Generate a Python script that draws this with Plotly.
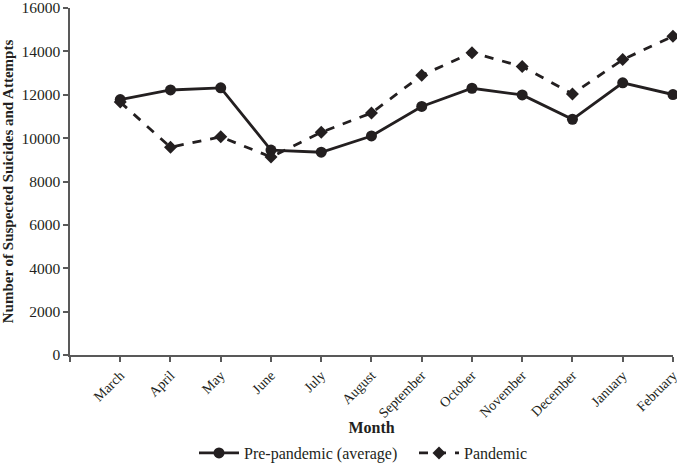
import plotly.graph_objects as go

months = ["March", "April", "May", "June", "July", "August", "September",
          "October", "November", "December", "January", "February"]
pre_pandemic = [11780, 12220, 12320, 9450, 9350, 10100, 11460, 12300, 11990, 10870, 12550, 12010]
pandemic = [11660, 9580, 10060, 9130, 10270, 11160, 12900, 13940, 13300, 12040, 13620, 14700]

xpos = list(range(len(months)))
font_family = "Liberation Serif, Times New Roman, serif"
line_color = "#231f20"
axis_color = "#595959"

fig = go.Figure()
fig.add_trace(go.Scatter(
    x=xpos, y=pre_pandemic, name="Pre-pandemic (average)", mode="lines+markers",
    line=dict(color=line_color, width=2.8),
    marker=dict(symbol="circle", size=11, color=line_color),
    cliponaxis=False,
))
fig.add_trace(go.Scatter(
    x=xpos, y=pandemic, name="Pandemic", mode="lines+markers",
    line=dict(color=line_color, width=2.8, dash="dash"),
    marker=dict(symbol="diamond", size=10, color=line_color),
    cliponaxis=False,
))

fig.update_layout(
    width=677, height=463,
    margin=dict(l=70, r=4, t=8, b=108, autoexpand=False),
    paper_bgcolor="white", plot_bgcolor="white",
    font=dict(family=font_family, size=16, color="#231f20"),
    showlegend=True,
    legend=dict(orientation="h", x=194 / 677, xanchor="left", xref="container",
                y=10 / 463, yanchor="middle", yref="container",
                font=dict(size=16), itemwidth=40, tracegroupgap=0, valign="middle",
                entrywidth=165, entrywidthmode="pixels"),
)
fig.update_xaxes(
    range=[-1, 11.001], tickmode="array",
    tickvals=[-1] + xpos, ticktext=[""] + months,
    tickangle=-45, ticks="outside", ticklen=5, tickcolor=axis_color, tickwidth=1.5,
    showline=True, linecolor=axis_color, linewidth=1.5, showgrid=False, zeroline=False,
    tickfont=dict(size=14), automargin=False, ticklabeloverflow="allow",
    title=dict(text="<b>Month</b>", font=dict(size=16), standoff=6),
)
fig.update_yaxes(
    range=[0, 16000], tickmode="linear", tick0=0, dtick=2000, tickformat="d",
    ticks="outside", ticklen=5, tickcolor=axis_color, tickwidth=1.5,
    showline=True, linecolor=axis_color, linewidth=1.5, showgrid=False, zeroline=False,
    tickfont=dict(size=15.5), automargin=False, ticklabeloverflow="allow",
    title=dict(text="<b>Number of Suspected Suicides and Attempts</b>", font=dict(size=15), standoff=8),
)

fig.write_html("out.html", config={"displayModeBar": False},
               post_script="document.body.style.margin='0';document.body.style.overflow='hidden';")
